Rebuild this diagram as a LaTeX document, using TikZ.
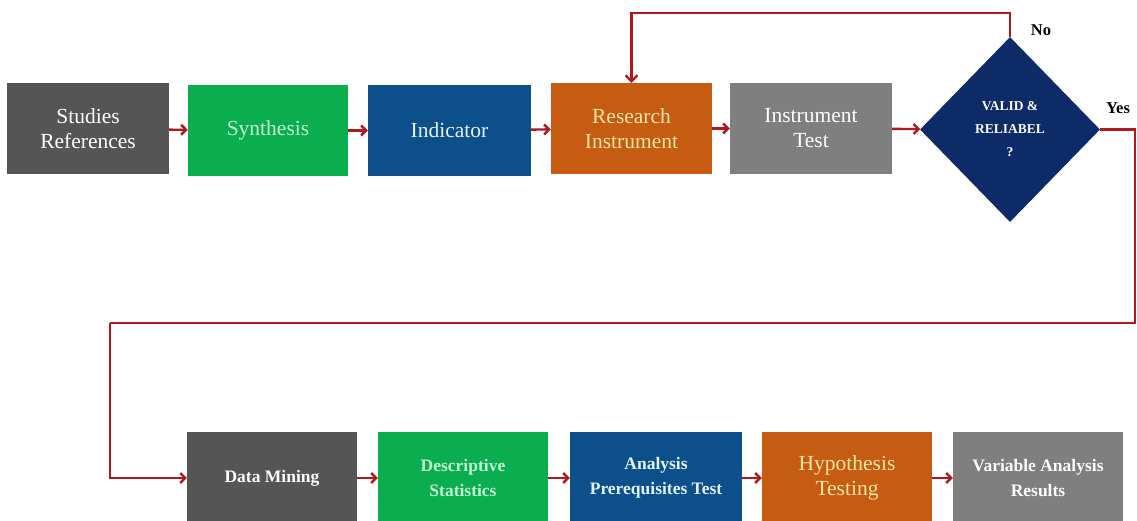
\documentclass[tikz,border=0pt]{standalone}
\usepackage{fontspec}
\setmainfont{Liberation Serif}
\usetikzlibrary{shapes.geometric,arrows.meta}

\definecolor{darkbox}{HTML}{555555}
\definecolor{greenbox}{HTML}{0AAE4E}
\definecolor{bluebox}{HTML}{0C4F8B}
\definecolor{orangebox}{HTML}{C65B12}
\definecolor{graybox}{HTML}{7F7F7F}
\definecolor{navybox}{HTML}{0D2B66}
\definecolor{flowred}{HTML}{B0181F}
\definecolor{greentext}{HTML}{C4F7D4}
\definecolor{bluetext}{HTML}{E2F4FF}
\definecolor{orangetext}{HTML}{FFE6A6}

\begin{document}
\begin{tikzpicture}[x=1pt,y=-1pt,
    box/.style={rectangle, minimum width=162pt, minimum height=91pt, inner sep=2pt,
      align=center, font=\fontsize{21.5}{25}\selectfont},
    smallbox/.style={box, font=\bfseries\fontsize{17.5}{25}\selectfont},
    flow/.style={draw=flowred, line width=2.4pt, -{Straight Barb[length=5pt,width=10pt]}},
    loopline/.style={draw=flowred, line width=2.2pt},
    answer/.style={font=\bfseries\fontsize{16.5}{18}\selectfont}]

  % page
  \fill[white] (0,0) rectangle (1137,521);
  \useasboundingbox (0,0) rectangle (1137,521);

  % First row
  \node[box, fill=darkbox, text=white] (studies) at (88,129) {Studies\\References};
  \node[box, fill=greenbox, text=greentext, minimum width=160pt] (synth) at (268,130.5) {Synthesis};
  \node[box, fill=bluebox, text=bluetext, minimum width=163pt] (indic) at (449.5,130.5) {Indicator};
  \node[box, fill=orangebox, text=orangetext, minimum width=161pt] (research) at (631.5,128.5) {Research\\Instrument};
  \node[box, fill=graybox, text=white] (insttest) at (811,128.5) {Instrument\\Test};

  % Decision
  \node[diamond, fill=navybox, text=white, minimum width=180pt, minimum height=185pt,
    inner sep=0pt, align=center, font=\bfseries\fontsize{13.5}{23}\selectfont]
    (valid) at (1010,129.5) {VALID \&\\RELIABEL\\?};
  \node[answer] (no) at (1041,30) {No};
  \node[answer] (yes) at (1118,108) {Yes};

  % Second row
  \node[smallbox, fill=darkbox, text=white, minimum width=170pt, minimum height=92pt] (mining) at (272,478) {Data Mining};
  \node[smallbox, fill=greenbox, text=greentext, minimum width=170pt, minimum height=92pt] (descr) at (463,478) {Descriptive\\Statistics};
  \node[smallbox, fill=bluebox, text=bluetext, minimum width=172pt, minimum height=92pt] (analysis) at (656,478) {Analysis\\Prerequisites Test};
  \node[box, fill=orangebox, text=orangetext, minimum width=170pt, minimum height=92pt] (hypo) at (847,478) {Hypothesis\\Testing};
  \node[smallbox, fill=graybox, text=white, minimum width=170pt, minimum height=92pt] (varres) at (1038,478) {Variable Analysis\\Results};

  % Arrows between boxes
  \foreach \a/\b in {studies/synth, synth/indic, indic/research, research/insttest,
      insttest/valid, mining/descr, descr/analysis, analysis/hypo, hypo/varres} {
    \draw[flow] (\a) -- (\b);
  }

  % No: back to the instrument
  \coordinate (noturn) at (1010,13);
  \draw[loopline, -{Straight Barb[length=6pt,width=12pt]}] (valid.north) -- (noturn) -| (research.north);

  % Yes: on to the data mining
  \coordinate (yesright) at (1135,323);
  \coordinate (yesleft) at (110,323);
  \draw[loopline] (valid.east) -| (yesright) -- (yesleft);
  \draw[flow, line width=2.2pt] (yesleft) |- (mining.west);
\end{tikzpicture}
\end{document}
